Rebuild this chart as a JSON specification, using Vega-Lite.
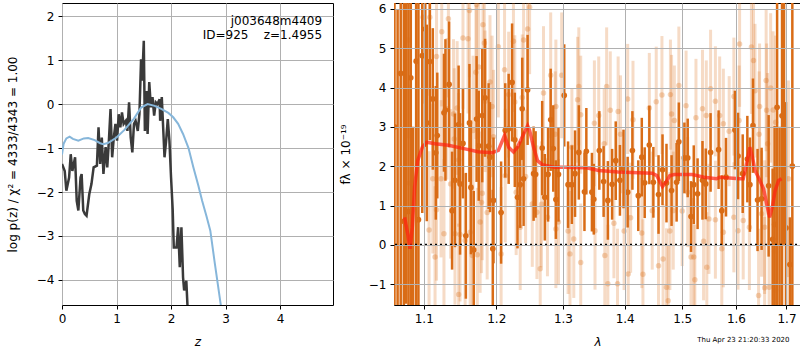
{
"$schema": "https://vega.github.io/schema/vega-lite/v6.json",
"background": "white",
"padding": {"left": 5, "top": 2, "right": 0, "bottom": 0},
"spacing": 4,
"title": {"text": "Thu Apr 23 21:20:33 2020", "orient": "bottom", "anchor": "end", "font": "DejaVu Sans", "fontSize": 7, "fontWeight": "normal", "color": "black", "offset": -12, "dx": -12},
"config": {
  "view": {"stroke": "black", "strokeWidth": 1},
  "axis": {"labelFont": "DejaVu Sans", "labelFontSize": 12, "labelColor": "black", "titleFont": "DejaVu Sans", "titleFontSize": 12, "titleFontWeight": "normal", "titleColor": "black", "tickColor": "black", "tickSize": 4, "domain": false, "gridColor": "#b0b0b0", "gridWidth": 1, "gridOpacity": 1, "labelPadding": 4},
  "axisX": {"titlePadding": 12},
  "axisY": {"titlePadding": 17}
},
"datasets": {
"pz": [
{"k":"d","z":0.0,"p":-1.36},{"k":"d","z":0.05,"p":-1.52},{"k":"d","z":0.08,"p":-1.97},{"k":"d","z":0.13,"p":-1.67},{"k":"d","z":0.16,"p":-1.14},{"k":"d","z":0.19,"p":-1.52},{"k":"d","z":0.24,"p":-1.21},{"k":"d","z":0.27,"p":-2.2},{"k":"d","z":0.3,"p":-2.42},{"k":"d","z":0.34,"p":-1.67},{"k":"d","z":0.36,"p":-1.59},{"k":"d","z":0.39,"p":-2.42},{"k":"d","z":0.42,"p":-2.5},{"k":"d","z":0.45,"p":-2.54},{"k":"d","z":0.5,"p":-2.05},{"k":"d","z":0.54,"p":-1.82},{"k":"d","z":0.58,"p":-1.44},{"k":"d","z":0.64,"p":-1.4},{"k":"d","z":0.67,"p":-0.53},{"k":"d","z":0.7,"p":-1.36},{"k":"d","z":0.73,"p":-0.76},{"k":"d","z":0.76,"p":-1.59},{"k":"d","z":0.8,"p":-0.98},{"k":"d","z":0.83,"p":-1.44},{"k":"d","z":0.86,"p":-0.83},{"k":"d","z":0.89,"p":-0.11},{"k":"d","z":0.92,"p":-1.21},{"k":"d","z":0.95,"p":-0.76},{"k":"d","z":0.98,"p":-0.45},{"k":"d","z":1.01,"p":-0.83},{"k":"d","z":1.04,"p":-0.23},{"k":"d","z":1.07,"p":-0.53},{"k":"d","z":1.1,"p":-0.19},{"k":"d","z":1.13,"p":-0.45},{"k":"d","z":1.17,"p":-0.38},{"k":"d","z":1.2,"p":-0.61},{"k":"d","z":1.23,"p":0.04},{"k":"d","z":1.26,"p":-0.76},{"k":"d","z":1.29,"p":-1.1},{"k":"d","z":1.32,"p":-0.45},{"k":"d","z":1.35,"p":-0.38},{"k":"d","z":1.39,"p":-0.61},{"k":"d","z":1.42,"p":-0.23},{"k":"d","z":1.45,"p":1.02},{"k":"d","z":1.47,"p":0.53},{"k":"d","z":1.5,"p":1.44},{"k":"d","z":1.52,"p":-0.61},{"k":"d","z":1.55,"p":0.3},{"k":"d","z":1.57,"p":-0.68},{"k":"d","z":1.6,"p":0.5},{"k":"d","z":1.63,"p":-0.07},{"k":"d","z":1.66,"p":0.16},{"k":"d","z":1.69,"p":-0.26},{"k":"d","z":1.72,"p":0.04},{"k":"d","z":1.75,"p":0.0},{"k":"d","z":1.79,"p":0.11},{"k":"d","z":1.8,"p":-0.38},{"k":"d","z":1.83,"p":0.16},{"k":"d","z":1.88,"p":-1.21},{"k":"d","z":1.91,"p":-0.83},{"k":"d","z":1.94,"p":-0.34},{"k":"d","z":1.97,"p":-0.83},{"k":"d","z":2.0,"p":-1.67},{"k":"d","z":2.03,"p":-2.4},{"k":"d","z":2.05,"p":-3.26},{"k":"d","z":2.1,"p":-3.26},{"k":"d","z":2.13,"p":-2.8},{"k":"d","z":2.16,"p":-3.71},{"k":"d","z":2.19,"p":-2.8},{"k":"d","z":2.22,"p":-3.94},{"k":"d","z":2.24,"p":-4.24},{"k":"d","z":2.28,"p":-4.02},{"k":"d","z":2.3,"p":-4.55},{"k":"d","z":2.32,"p":-5.2},
{"k":"b","z":0.0,"p":-1.15},{"k":"b","z":0.03,"p":-0.9},{"k":"b","z":0.08,"p":-0.78},{"k":"b","z":0.14,"p":-0.74},{"k":"b","z":0.2,"p":-0.79},{"k":"b","z":0.3,"p":-0.83},{"k":"b","z":0.4,"p":-0.78},{"k":"b","z":0.48,"p":-0.77},{"k":"b","z":0.6,"p":-0.82},{"k":"b","z":0.7,"p":-0.89},{"k":"b","z":0.76,"p":-0.91},{"k":"b","z":0.85,"p":-0.88},{"k":"b","z":1.0,"p":-0.76},{"k":"b","z":1.15,"p":-0.58},{"k":"b","z":1.32,"p":-0.33},{"k":"b","z":1.45,"p":-0.08},{"k":"b","z":1.57,"p":0.0},{"k":"b","z":1.7,"p":-0.04},{"k":"b","z":1.82,"p":-0.11},{"k":"b","z":1.95,"p":-0.2},{"k":"b","z":2.04,"p":-0.3},{"k":"b","z":2.13,"p":-0.45},{"k":"b","z":2.22,"p":-0.68},{"k":"b","z":2.32,"p":-1.0},{"k":"b","z":2.41,"p":-1.44},{"k":"b","z":2.5,"p":-1.85},{"k":"b","z":2.57,"p":-2.2},{"k":"b","z":2.65,"p":-2.55},{"k":"b","z":2.72,"p":-2.88},{"k":"b","z":2.8,"p":-3.6},{"k":"b","z":2.91,"p":-4.55},{"k":"b","z":2.96,"p":-5.0}
],
"notes": [
{"t": "j003648m4409", "r": 1},
{"t": "ID=925\u00a0\u00a0\u00a0\u00a0z=1.4955", "r": 2}
],
"spec": [
{"k":"d","l":1.062,"f":3.0,"e":9},{"k":"d","l":1.066,"f":-2.0,"e":8},{"k":"d","l":1.070,"f":4.36,"e":8},{"k":"d","l":1.074,"f":0.60,"e":8},{"k":"d","l":1.077,"f":7.5,"e":9},{"k":"d","l":1.080,"f":0.85,"e":8},{"k":"d","l":1.083,"f":4.25,"e":8},{"k":"d","l":1.086,"f":-3.0,"e":6},{"k":"d","l":1.090,"f":4.67,"e":8},{"k":"d","l":1.093,"f":0.64,"e":7},{"k":"d","l":1.098,"f":4.81,"e":4},{"k":"d","l":1.102,"f":5.49,"e":3},{"k":"d","l":1.104,"f":3.10,"e":2.5},{"k":"d","l":1.108,"f":4.66,"e":2},{"k":"d","l":1.112,"f":3.71,"e":1.8},{"k":"d","l":1.116,"f":2.34,"e":1.7},{"k":"d","l":1.118,"f":2.78,"e":1.6},{"k":"d","l":1.127,"f":3.36,"e":1.5},{"k":"d","l":1.129,"f":3.43,"e":1.8},{"k":"d","l":1.134,"f":4.08,"e":1.6},{"k":"d","l":1.138,"f":0.87,"e":1.5},{"k":"d","l":1.142,"f":1.64,"e":1.7},{"k":"d","l":1.147,"f":3.06,"e":1.5},{"k":"d","l":1.149,"f":1.55,"e":1.8},{"k":"d","l":1.153,"f":2.58,"e":1.4},{"k":"d","l":1.157,"f":0.23,"e":1.6},{"k":"d","l":1.162,"f":3.10,"e":1.5},{"k":"d","l":1.164,"f":1.46,"e":1.7},{"k":"d","l":1.168,"f":-0.13,"e":1.5},{"k":"d","l":1.172,"f":3.20,"e":1.6},{"k":"d","l":1.175,"f":2.52,"e":1.4},{"k":"d","l":1.180,"f":3.29,"e":1.7},{"k":"d","l":1.184,"f":3.74,"e":1.5},{"k":"d","l":1.189,"f":2.51,"e":1.6},{"k":"d","l":1.191,"f":2.23,"e":1.4},{"k":"d","l":1.195,"f":-0.10,"e":1.5},{"k":"d","l":1.196,"f":1.13,"e":1.6},{"k":"d","l":1.207,"f":0.82,"e":1.3},{"k":"d","l":1.213,"f":2.91,"e":1.2},{"k":"d","l":1.218,"f":2.95,"e":1.4},{"k":"d","l":1.223,"f":4.13,"e":1.5},{"k":"d","l":1.227,"f":2.67,"e":1.2},{"k":"d","l":1.231,"f":1.21,"e":1.3},{"k":"d","l":1.235,"f":1.53,"e":1.1},{"k":"d","l":1.238,"f":3.46,"e":1.3},{"k":"d","l":1.240,"f":1.68,"e":1.2},{"k":"d","l":1.246,"f":3.94,"e":1.4},{"k":"d","l":1.255,"f":1.81,"e":1.2},{"k":"d","l":1.258,"f":1.79,"e":1.1},{"k":"d","l":1.268,"f":2.46,"e":1.2},{"k":"d","l":1.272,"f":1.21,"e":1.1},{"k":"d","l":1.277,"f":1.79,"e":1.2},{"k":"d","l":1.281,"f":3.18,"e":1.3},{"k":"d","l":1.285,"f":2.45,"e":1.1},{"k":"d","l":1.289,"f":1.15,"e":1.0},{"k":"d","l":1.293,"f":1.79,"e":1.2},{"k":"d","l":1.302,"f":3.80,"e":1.3},{"k":"d","l":1.308,"f":1.53,"e":1.1},{"k":"d","l":1.314,"f":1.53,"e":1.0},{"k":"d","l":1.319,"f":1.81,"e":1.1},{"k":"d","l":1.325,"f":2.35,"e":1.2},{"k":"d","l":1.334,"f":1.35,"e":1.0},{"k":"d","l":1.337,"f":2.38,"e":1.1},{"k":"d","l":1.346,"f":1.34,"e":1.0},{"k":"d","l":1.349,"f":1.16,"e":0.9},{"k":"d","l":1.358,"f":2.40,"e":1.0},{"k":"d","l":1.365,"f":1.61,"e":0.9},{"k":"d","l":1.372,"f":1.13,"e":1.0},{"k":"d","l":1.379,"f":1.54,"e":0.9},{"k":"d","l":1.385,"f":2.14,"e":1.0},{"k":"d","l":1.392,"f":1.64,"e":0.9},{"k":"d","l":1.398,"f":1.93,"e":1.0},{"k":"d","l":1.405,"f":1.34,"e":0.9},{"k":"d","l":1.413,"f":2.40,"e":1.0},{"k":"d","l":1.423,"f":1.25,"e":0.9},{"k":"d","l":1.429,"f":2.23,"e":1.0},{"k":"d","l":1.434,"f":1.58,"e":0.9},{"k":"d","l":1.442,"f":2.54,"e":1.0},{"k":"d","l":1.449,"f":1.59,"e":0.9},{"k":"d","l":1.458,"f":1.28,"e":1.0},{"k":"d","l":1.465,"f":1.91,"e":0.9},{"k":"d","l":1.472,"f":1.57,"e":1.0},{"k":"d","l":1.481,"f":1.38,"e":0.9},{"k":"d","l":1.490,"f":1.59,"e":1.0},{"k":"d","l":1.494,"f":2.62,"e":1.0},{"k":"d","l":1.504,"f":2.21,"e":0.9},{"k":"d","l":1.510,"f":2.21,"e":1.0},{"k":"d","l":1.516,"f":0.72,"e":0.9},{"k":"d","l":1.521,"f":1.53,"e":1.0},{"k":"d","l":1.528,"f":1.30,"e":0.9},{"k":"d","l":1.537,"f":1.64,"e":1.0},{"k":"d","l":1.543,"f":1.55,"e":0.9},{"k":"d","l":1.552,"f":2.35,"e":1.0},{"k":"d","l":1.567,"f":2.42,"e":1.0},{"k":"d","l":1.573,"f":0.87,"e":0.9},{"k":"d","l":1.581,"f":1.72,"e":1.0},{"k":"d","l":1.598,"f":2.92,"e":1.0},{"k":"d","l":1.604,"f":2.26,"e":1.1},{"k":"d","l":1.613,"f":1.81,"e":1.0},{"k":"d","l":1.622,"f":2.18,"e":1.1},{"k":"d","l":1.627,"f":1.53,"e":1.2},{"k":"d","l":1.633,"f":3.03,"e":1.2},{"k":"d","l":1.642,"f":1.14,"e":1.3},{"k":"d","l":1.650,"f":1.17,"e":1.3},{"k":"d","l":1.664,"f":1.5,"e":1.8},{"k":"d","l":1.672,"f":0.14,"e":1.8},{"k":"d","l":1.676,"f":0.52,"e":2.5},{"k":"d","l":1.681,"f":3.5,"e":6},{"k":"d","l":1.686,"f":-2.0,"e":5},{"k":"d","l":1.691,"f":3.28,"e":8},{"k":"d","l":1.695,"f":8.0,"e":8},{"k":"d","l":1.699,"f":0.43,"e":3.2},{"k":"d","l":1.707,"f":-0.5,"e":1.2},{"k":"d","l":1.712,"f":2.0,"e":9},
{"k":"g","l":1.080,"f":5.21,"e":2.5},{"k":"g","l":1.081,"f":1.57,"e":2.5},{"k":"g","l":1.099,"f":5.79,"e":2.2},{"k":"g","l":1.108,"f":5.79,"e":2.0},{"k":"g","l":1.117,"f":4.79,"e":2.0},{"k":"g","l":1.124,"f":5.42,"e":1.9},{"k":"g","l":1.133,"f":5.75,"e":2.0},{"k":"g","l":1.112,"f":1.68,"e":1.9},{"k":"g","l":1.123,"f":1.68,"e":2.0},{"k":"g","l":1.117,"f":0.89,"e":1.8},{"k":"g","l":1.107,"f":0.38,"e":2.0},{"k":"g","l":1.115,"f":-0.31,"e":1.8},{"k":"g","l":1.127,"f":0.28,"e":1.9},{"k":"g","l":1.131,"f":3.46,"e":1.8},{"k":"g","l":1.140,"f":3.33,"e":1.9},{"k":"g","l":1.145,"f":3.48,"e":1.7},{"k":"g","l":1.141,"f":2.69,"e":1.8},{"k":"g","l":1.147,"f":2.16,"e":1.7},{"k":"g","l":1.136,"f":1.55,"e":1.9},{"k":"g","l":1.142,"f":0.28,"e":1.8},{"k":"g","l":1.149,"f":0.26,"e":1.7},{"k":"g","l":1.153,"f":5.26,"e":1.8},{"k":"g","l":1.160,"f":5.24,"e":1.9},{"k":"g","l":1.162,"f":5.96,"e":1.7},{"k":"g","l":1.172,"f":6.11,"e":1.8},{"k":"g","l":1.181,"f":5.60,"e":1.9},{"k":"g","l":1.183,"f":5.13,"e":1.8},{"k":"g","l":1.171,"f":4.39,"e":1.7},{"k":"g","l":1.175,"f":4.52,"e":1.8},{"k":"g","l":1.191,"f":4.14,"e":1.7},{"k":"g","l":1.184,"f":3.65,"e":1.8},{"k":"g","l":1.167,"f":2.91,"e":1.9},{"k":"g","l":1.180,"f":1.31,"e":1.7},{"k":"g","l":1.179,"f":1.08,"e":1.8},{"k":"g","l":1.187,"f":0.82,"e":1.7},{"k":"g","l":1.177,"f":0.58,"e":1.8},{"k":"g","l":1.163,"f":0.32,"e":1.9},{"k":"g","l":1.156,"f":0.11,"e":1.7},{"k":"g","l":1.166,"f":-0.27,"e":1.8},{"k":"g","l":1.173,"f":-0.25,"e":1.7},{"k":"g","l":1.147,"f":-1.26,"e":1.8},{"k":"g","l":1.196,"f":2.75,"e":1.7},{"k":"g","l":1.194,"f":3.52,"e":1.8},{"k":"g","l":1.203,"f":5.04,"e":1.8},{"k":"g","l":1.212,"f":4.45,"e":1.7},{"k":"g","l":1.225,"f":5.18,"e":1.8},{"k":"g","l":1.240,"f":5.21,"e":1.7},{"k":"g","l":1.246,"f":5.49,"e":1.8},{"k":"g","l":1.249,"f":6.04,"e":1.7},{"k":"g","l":1.218,"f":3.82,"e":1.6},{"k":"g","l":1.227,"f":3.63,"e":1.7},{"k":"g","l":1.238,"f":3.75,"e":1.6},{"k":"g","l":1.270,"f":3.86,"e":1.7},{"k":"g","l":1.281,"f":4.31,"e":1.6},{"k":"g","l":1.289,"f":3.52,"e":1.7},{"k":"g","l":1.298,"f":4.31,"e":1.6},{"k":"g","l":1.325,"f":4.03,"e":1.5},{"k":"g","l":1.323,"f":3.69,"e":1.6},{"k":"g","l":1.328,"f":3.31,"e":1.5},{"k":"g","l":1.350,"f":3.09,"e":1.6},{"k":"g","l":1.314,"f":2.48,"e":1.5},{"k":"g","l":1.288,"f":2.81,"e":1.6},{"k":"g","l":1.213,"f":1.76,"e":1.7},{"k":"g","l":1.229,"f":1.34,"e":1.6},{"k":"g","l":1.243,"f":1.74,"e":1.7},{"k":"g","l":1.253,"f":1.04,"e":1.6},{"k":"g","l":1.260,"f":0.83,"e":1.7},{"k":"g","l":1.267,"f":1.03,"e":1.6},{"k":"g","l":1.276,"f":0.70,"e":1.5},{"k":"g","l":1.293,"f":0.58,"e":1.6},{"k":"g","l":1.289,"f":0.40,"e":1.5},{"k":"g","l":1.308,"f":0.35,"e":1.6},{"k":"g","l":1.317,"f":0.15,"e":1.5},{"k":"g","l":1.311,"f":-0.23,"e":1.6},{"k":"g","l":1.328,"f":-0.45,"e":1.5},{"k":"g","l":1.265,"f":-0.61,"e":1.6},{"k":"g","l":1.207,"f":-0.23,"e":1.7},{"k":"g","l":1.235,"f":0.45,"e":1.6},{"k":"g","l":1.370,"f":4.03,"e":1.5},{"k":"g","l":1.405,"f":3.71,"e":1.4},{"k":"g","l":1.414,"f":3.18,"e":1.5},{"k":"g","l":1.454,"f":3.64,"e":1.4},{"k":"g","l":1.464,"f":3.81,"e":1.5},{"k":"g","l":1.479,"f":3.82,"e":1.4},{"k":"g","l":1.494,"f":4.05,"e":1.5},{"k":"g","l":1.507,"f":3.54,"e":1.4},{"k":"g","l":1.481,"f":3.33,"e":1.5},{"k":"g","l":1.442,"f":3.48,"e":1.4},{"k":"g","l":1.376,"f":3.42,"e":1.5},{"k":"g","l":1.389,"f":3.39,"e":1.4},{"k":"g","l":1.357,"f":3.29,"e":1.5},{"k":"g","l":1.366,"f":2.57,"e":1.4},{"k":"g","l":1.486,"f":3.16,"e":1.4},{"k":"g","l":1.393,"f":2.81,"e":1.5},{"k":"g","l":1.351,"f":0.36,"e":1.5},{"k":"g","l":1.367,"f":-0.27,"e":1.4},{"k":"g","l":1.372,"f":-0.99,"e":1.5},{"k":"g","l":1.388,"f":-0.99,"e":1.4},{"k":"g","l":1.406,"f":-0.74,"e":1.5},{"k":"g","l":1.431,"f":-0.75,"e":1.4},{"k":"g","l":1.458,"f":-0.53,"e":1.5},{"k":"g","l":1.466,"f":-0.36,"e":1.4},{"k":"g","l":1.472,"f":-1.08,"e":1.5},{"k":"g","l":1.475,"f":-1.42,"e":1.4},{"k":"g","l":1.516,"f":-0.31,"e":1.5},{"k":"g","l":1.382,"f":0.55,"e":1.4},{"k":"g","l":1.399,"f":0.35,"e":1.5},{"k":"g","l":1.429,"f":0.30,"e":1.4},{"k":"g","l":1.478,"f":0.35,"e":1.5},{"k":"g","l":1.410,"f":0.69,"e":1.4},{"k":"g","l":1.484,"f":0.87,"e":1.5},{"k":"g","l":1.500,"f":0.86,"e":1.4},{"k":"g","l":1.447,"f":0.87,"e":1.5},{"k":"g","l":1.510,"f":1.34,"e":1.4},{"k":"g","l":1.537,"f":3.46,"e":1.5},{"k":"g","l":1.544,"f":3.29,"e":1.4},{"k":"g","l":1.552,"f":3.97,"e":1.5},{"k":"g","l":1.561,"f":3.65,"e":1.4},{"k":"g","l":1.569,"f":3.29,"e":1.5},{"k":"g","l":1.576,"f":3.08,"e":1.4},{"k":"g","l":1.525,"f":3.23,"e":1.5},{"k":"g","l":1.587,"f":2.89,"e":1.4},{"k":"g","l":1.596,"f":3.77,"e":1.5},{"k":"g","l":1.606,"f":3.16,"e":1.4},{"k":"g","l":1.607,"f":5.11,"e":1.6},{"k":"g","l":1.630,"f":5.03,"e":1.7},{"k":"g","l":1.634,"f":4.69,"e":1.6},{"k":"g","l":1.637,"f":3.92,"e":1.7},{"k":"g","l":1.646,"f":3.52,"e":1.6},{"k":"g","l":1.660,"f":3.42,"e":1.7},{"k":"g","l":1.659,"f":4.18,"e":1.8},{"k":"g","l":1.668,"f":3.99,"e":1.9},{"k":"g","l":1.673,"f":3.43,"e":2.0},{"k":"g","l":1.678,"f":3.12,"e":2.2},{"k":"g","l":1.645,"f":2.81,"e":1.6},{"k":"g","l":1.662,"f":2.57,"e":1.8},{"k":"g","l":1.704,"f":1.68,"e":2.5},{"k":"g","l":1.521,"f":-0.31,"e":1.5},{"k":"g","l":1.523,"f":-0.89,"e":1.4},{"k":"g","l":1.539,"f":0.09,"e":1.5},{"k":"g","l":1.545,"f":-0.57,"e":1.4},{"k":"g","l":1.573,"f":-0.10,"e":1.5},{"k":"g","l":1.576,"f":0.32,"e":1.4},{"k":"g","l":1.604,"f":0.36,"e":1.5},{"k":"g","l":1.626,"f":0.45,"e":1.6},{"k":"g","l":1.614,"f":0.62,"e":1.5},{"k":"g","l":1.644,"f":-1.29,"e":1.7},{"k":"g","l":1.656,"f":-1.09,"e":1.8},{"k":"g","l":1.665,"f":-1.08,"e":1.9},{"k":"g","l":1.678,"f":-1.16,"e":2.2},{"k":"g","l":1.676,"f":-0.16,"e":2.0},{"k":"g","l":1.650,"f":0.79,"e":1.6},{"k":"g","l":1.549,"f":0.66,"e":1.4},{"k":"g","l":1.561,"f":0.64,"e":1.5},{"k":"g","l":1.596,"f":0.70,"e":1.4},{"k":"g","l":1.656,"f":0.45,"e":1.7},
{"k":"m","l":1.075,"f":0.70},{"k":"m","l":1.079,"f":0.28},{"k":"m","l":1.082,"f":-0.10},{"k":"m","l":1.085,"f":0.45},{"k":"m","l":1.088,"f":1.47},{"k":"m","l":1.092,"f":2.14},{"k":"m","l":1.098,"f":2.48},{"k":"m","l":1.104,"f":2.61},{"k":"m","l":1.115,"f":2.57},{"k":"m","l":1.133,"f":2.53},{"k":"m","l":1.156,"f":2.44},{"k":"m","l":1.174,"f":2.37},{"k":"m","l":1.194,"f":2.34},{"k":"m","l":1.203,"f":2.40},{"k":"m","l":1.212,"f":2.78},{"k":"m","l":1.218,"f":2.48},{"k":"m","l":1.225,"f":2.36},{"k":"m","l":1.231,"f":2.48},{"k":"m","l":1.240,"f":2.82},{"k":"m","l":1.246,"f":3.03},{"k":"m","l":1.249,"f":2.91},{"k":"m","l":1.255,"f":2.48},{"k":"m","l":1.261,"f":2.14},{"k":"m","l":1.268,"f":2.04},{"k":"m","l":1.287,"f":1.97},{"k":"m","l":1.303,"f":1.97},{"k":"m","l":1.337,"f":1.96},{"k":"m","l":1.357,"f":1.89},{"k":"m","l":1.389,"f":1.85},{"k":"m","l":1.447,"f":1.82},{"k":"m","l":1.455,"f":1.76},{"k":"m","l":1.461,"f":1.59},{"k":"m","l":1.465,"f":1.48},{"k":"m","l":1.471,"f":1.59},{"k":"m","l":1.478,"f":1.76},{"k":"m","l":1.486,"f":1.79},{"k":"m","l":1.518,"f":1.79},{"k":"m","l":1.540,"f":1.72},{"k":"m","l":1.563,"f":1.68},{"k":"m","l":1.569,"f":1.72},{"k":"m","l":1.607,"f":1.68},{"k":"m","l":1.614,"f":1.68},{"k":"m","l":1.622,"f":2.14},{"k":"m","l":1.627,"f":2.48},{"k":"m","l":1.632,"f":2.23},{"k":"m","l":1.637,"f":1.89},{"k":"m","l":1.645,"f":1.68},{"k":"m","l":1.654,"f":1.42},{"k":"m","l":1.660,"f":1.04},{"k":"m","l":1.666,"f":0.70},{"k":"m","l":1.672,"f":1.0},{"k":"m","l":1.677,"f":1.38},{"k":"m","l":1.684,"f":1.64},{"k":"m","l":1.690,"f":1.68},
{"k":"z","l":1.05,"f":0},{"k":"z","l":1.75,"f":0}
]
},
"hconcat": [
{
  "width": 271, "height": 302,
  "layer": [
    {"data": {"name": "pz"}, "transform": [{"filter": "datum.k == 'd'"}], "mark": {"type": "line", "color": "#3a3a3a", "strokeWidth": 2.5, "clip": true},
     "encoding": {
      "x": {"field": "z", "type": "quantitative", "scale": {"domain": [0, 4.97], "nice": false, "zero": false}, "axis": {"values": [0,1,2,3,4], "title": "z", "titleFontStyle": "italic", "labelFlush": false}},
      "y": {"field": "p", "type": "quantitative", "scale": {"domain": [-4.57, 2.3], "nice": false, "zero": false}, "axis": {"values": [-4,-3,-2,-1,0,1,2], "title": "log p(z) / χ² = 4333/4343 = 1.00"}}
     }},
    {"data": {"name": "pz"}, "transform": [{"filter": "datum.k == 'b'"}], "mark": {"type": "line", "color": "#86b6da", "strokeWidth": 2, "clip": true},
     "encoding": {"x": {"field": "z", "type": "quantitative"}, "y": {"field": "p", "type": "quantitative"}}},
    {"data": {"name": "notes"}, "transform": [{"filter": "datum.r == 1"}], "mark": {"type": "text", "align": "right", "baseline": "middle", "font": "DejaVu Sans", "fontSize": 12, "color": "black"},
     "encoding": {"x": {"datum": 4.77}, "y": {"datum": 1.88}, "text": {"field": "t", "type": "nominal"}}},
    {"data": {"name": "notes"}, "transform": [{"filter": "datum.r == 2"}], "mark": {"type": "text", "align": "right", "baseline": "middle", "font": "DejaVu Sans", "fontSize": 12, "color": "black"},
     "encoding": {"x": {"datum": 4.77}, "y": {"datum": 1.58}, "text": {"field": "t", "type": "nominal"}}}
  ]
},
{
  "width": 407, "height": 302,
  "data": {"name": "spec"},
  "encoding": {
    "x": {"field": "l", "type": "quantitative", "scale": {"type": "log", "domain": [1.0614, 1.7299], "nice": false}, "axis": {"values": [1.1,1.2,1.3,1.4,1.5,1.6,1.7], "format": ".1f", "title": "λ", "titleFontStyle": "italic", "labelFlush": false, "zindex": 1}},
    "y": {"field": "f", "type": "quantitative", "scale": {"domain": [-1.53, 6.15], "nice": false, "zero": false}, "axis": {"values": [-1,0,1,2,3,4,5,6], "title": "fλ × 10⁻¹⁹", "titlePadding": 16, "zindex": 1}}
  },
  "layer": [
    {"transform": [{"filter": "datum.k == 'g'"}], "mark": {"type": "errorbar", "thickness": 3, "color": "#da6f1a", "opacity": 0.25, "clip": true}, "encoding": {"yError": {"field": "e"}}},
    {"transform": [{"filter": "datum.k == 'g'"}], "mark": {"type": "circle", "size": 30, "color": "#da6f1a", "opacity": 0.3, "clip": true}},
    {"transform": [{"filter": "datum.k == 'd'"}], "mark": {"type": "errorbar", "thickness": 2.5, "color": "#d96c16", "clip": true}, "encoding": {"yError": {"field": "e"}}},
    {"transform": [{"filter": "datum.k == 'd'"}], "mark": {"type": "circle", "size": 32, "color": "#d96c16", "opacity": 1, "clip": true}},
    {"transform": [{"filter": "datum.k == 'z'"}], "mark": {"type": "line", "color": "black", "strokeWidth": 2, "strokeDash": [2, 3], "clip": true}},
    {"transform": [{"filter": "datum.k == 'm'"}], "mark": {"type": "line", "color": "#ff2010", "opacity": 0.7, "strokeWidth": 3.5, "clip": true}}
  ]
}
]
}
